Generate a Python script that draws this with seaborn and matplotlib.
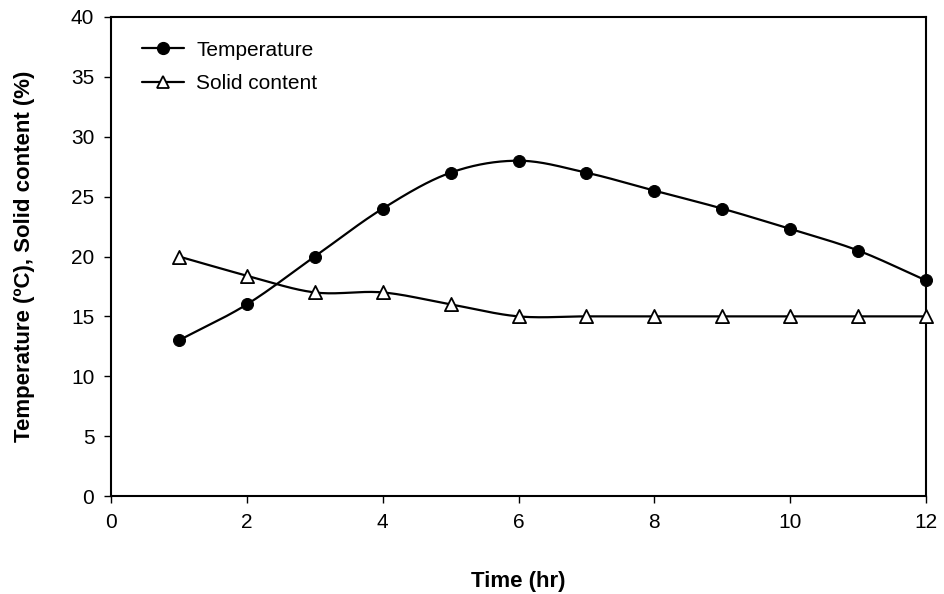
import numpy as np
import pandas as pd
import matplotlib
matplotlib.use("Agg")
import matplotlib.pyplot as plt
import seaborn as sns
from matplotlib.lines import Line2D

time_hr = [1, 2, 3, 4, 5, 6, 7, 8, 9, 10, 11, 12]
temperature = [13, 16, 20, 24, 27, 28, 27, 25.5, 24, 22.3, 20.5, 18]
solid_content = [20, 18.4, 17, 17, 16, 15, 15, 15, 15, 15, 15, 15]
x_ticks = [0, 2, 4, 6, 8, 10, 12]
y_ticks = [0, 5, 10, 15, 20, 25, 30, 35, 40]

sns.set_theme(style="ticks")
plt.rcParams['font.family'] = ['Liberation Sans', 'DejaVu Sans']
plt.rcParams['text.color'] = 'black'
plt.rcParams['axes.labelcolor'] = 'black'


def smooth(x, y, n=30):
    # Catmull-Rom spline through the data points (rendering only)
    x = np.asarray(x, float); y = np.asarray(y, float)
    px = np.concatenate([[2 * x[0] - x[1]], x, [2 * x[-1] - x[-2]]])
    py = np.concatenate([[2 * y[0] - y[1]], y, [2 * y[-1] - y[-2]]])
    xs, ys = [], []
    for i in range(1, len(px) - 2):
        t = np.linspace(0, 1, n, endpoint=False)
        for arr, out in ((px, xs), (py, ys)):
            p0, p1, p2, p3 = arr[i - 1], arr[i], arr[i + 1], arr[i + 2]
            out.extend(0.5 * ((2 * p1) + (-p0 + p2) * t + (2 * p0 - 5 * p1 + 4 * p2 - p3) * t ** 2
                              + (-p0 + 3 * p1 - 3 * p2 + p3) * t ** 3))
    xs.append(x[-1]); ys.append(y[-1])
    return np.array(xs), np.array(ys)


fig = plt.figure(figsize=(9.44, 5.94), dpi=100)
ax = fig.add_axes([111 / 944, 1 - 496 / 594, (926 - 111) / 944, (496 - 17) / 594])

df = pd.DataFrame({"Time": time_hr, "Temperature": temperature, "Solid": solid_content})

tx, ty = smooth(time_hr, temperature)
sx, sy = smooth(time_hr, solid_content)
sns.lineplot(x=tx, y=ty, ax=ax, color="black", lw=1.6, sort=False, zorder=2)
sns.lineplot(x=sx, y=sy, ax=ax, color="black", lw=1.6, sort=False, zorder=2)
sns.scatterplot(data=df, x="Time", y="Temperature", ax=ax, marker="o", s=75,
                color="black", edgecolor="black", zorder=3, clip_on=False)
sns.scatterplot(data=df, x="Time", y="Solid", ax=ax, marker="^", s=90,
                color="white", edgecolor="black", linewidth=1.3, zorder=3, clip_on=False)

handles = [Line2D([], [], color="black", lw=1.6, marker="o", markersize=8.5),
           Line2D([], [], color="black", lw=1.6, marker="^", markersize=9,
                  markerfacecolor="white", markeredgewidth=1.3)]
ax.legend(handles, ["Temperature", "Solid content"], loc="upper left", frameon=False,
          fontsize=15, bbox_to_anchor=(0.015, 0.99), handlelength=2.0, handletextpad=0.6,
          labelspacing=0.7)

ax.set_xlim(0, 12)
ax.set_ylim(0, 40)
ax.set_xticks(x_ticks)
ax.set_yticks(y_ticks)
ax.tick_params(axis="both", labelsize=15, direction="out", length=5, width=1,
               colors="black", labelcolor="black", pad=7)
for sp in ax.spines.values():
    sp.set_visible(True)
    sp.set_color("black")
    sp.set_linewidth(1.5)
ax.set_xlabel("Time (hr)", fontsize=16, fontweight="bold", labelpad=28)
ax.set_ylabel("Temperature (ºC), Solid content (%)", fontsize=16, fontweight="bold", labelpad=26)
ax.set_facecolor("white")
fig.savefig("out.png", dpi=100, facecolor="white")
